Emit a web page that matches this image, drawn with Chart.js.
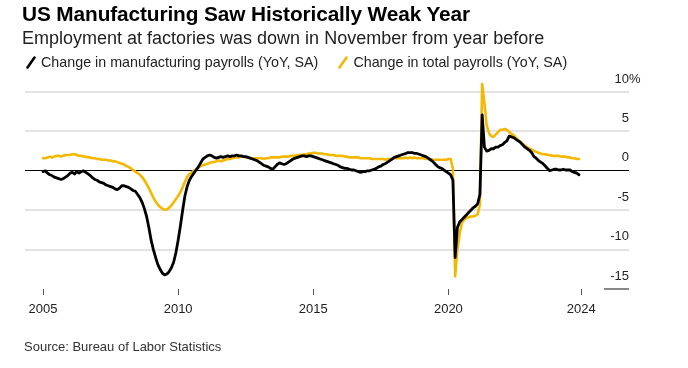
<!DOCTYPE html>
<html>
<head>
<meta charset="utf-8">
<script src="https://cdn.jsdelivr.net/npm/chart.js@4.4.1/dist/chart.umd.min.js"></script>
<style>
  html, body { margin: 0; padding: 0; background: #fff; }
  #wrap { position: relative; width: 688px; height: 368px; overflow: hidden; font-family: "Liberation Sans", Arial, sans-serif; }
  #c { position: absolute; left: 0; top: 0; }
  .t { position: absolute; white-space: nowrap; }
  #title { left: 22px; top: 2px; line-height: 24px; font-size: 20.8px; font-weight: bold; color: #000; letter-spacing: -0.1px; }
  #subtitle { left: 22px; top: 27px; line-height: 22px; font-size: 18px; color: #222; }
  #legend { left: 26px; top: 52px; line-height: 20px; font-size: 14.3px; color: #222; display: flex; align-items: center; }
  #legend svg { margin-right: 5px; }
  #legend .item { display: flex; align-items: center; margin-right: 20px; }
  #source { left: 24px; top: 338px; line-height: 18px; font-size: 13px; color: #333; }
</style>
</head>
<body>
<div id="wrap">
  <canvas id="c" width="688" height="368"></canvas>
  <div class="t" id="title">US Manufacturing Saw Historically Weak Year</div>
  <div class="t" id="subtitle">Employment at factories was down in November from year before</div>
  <div class="t" id="legend"></div>
  <div class="t" id="source">Source: Bureau of Labor Statistics</div>
</div>
<script>
// Monthly, Jan 2005 – Nov 2024, year-over-year % change
const firstYear = 2005;
const seriesNames = ['Change in manufacturing payrolls (YoY, SA)', 'Change in total payrolls (YoY, SA)'];
const manufacturingYoY = [
  -0.1, 0.0, -0.3, -0.5, -0.6, -0.8, -0.9, -1.0, -1.1, -1.0, -0.8, -0.6,   // 2005
  -0.3, -0.2, -0.4, -0.1, -0.3, -0.1, 0.0, -0.2, -0.4, -0.6, -0.9, -1.1,   // 2006
  -1.2, -1.4, -1.5, -1.6, -1.8, -1.9, -2.0, -2.1, -2.3, -2.4, -2.2, -1.9,  // 2007
  -1.9, -2.0, -2.1, -2.3, -2.5, -2.6, -3.0, -3.4, -4.0, -4.8, -5.8, -7.2,  // 2008
  -8.8, -10.0, -11.0, -11.9, -12.5, -13.0, -13.2, -13.1, -12.8, -12.3, -11.6, -10.4, // 2009
  -8.8, -7.0, -5.0, -3.2, -2.0, -1.2, -0.7, -0.3, 0.1, 0.5, 1.0, 1.5,      // 2010
  1.7, 1.9, 2.0, 1.9, 1.7, 1.6, 1.7, 1.8, 1.7, 1.8, 1.9, 1.8,              // 2011
  1.9, 1.9, 2.0, 1.9, 1.9, 1.8, 1.8, 1.7, 1.6, 1.5, 1.4, 1.3,              // 2012
  1.1, 0.9, 0.7, 0.6, 0.5, 0.3, 0.2, 0.5, 0.8, 1.0, 0.9, 0.8,              // 2013
  0.9, 1.1, 1.3, 1.5, 1.6, 1.7, 1.8, 1.9, 1.9, 1.8, 1.9, 1.9,              // 2014
  1.8, 1.7, 1.6, 1.5, 1.4, 1.3, 1.2, 1.1, 1.0, 0.9, 0.8, 0.7,              // 2015
  0.5, 0.4, 0.3, 0.3, 0.2, 0.1, 0.1, 0.0, -0.1, -0.2, -0.1, -0.1,          // 2016
  0.0, 0.0, 0.1, 0.2, 0.3, 0.5, 0.6, 0.8, 0.9, 1.1, 1.3, 1.5,              // 2017
  1.7, 1.8, 1.9, 2.0, 2.1, 2.2, 2.3, 2.3, 2.3, 2.2, 2.2, 2.1,              // 2018
  2.0, 1.9, 1.8, 1.6, 1.4, 1.2, 0.9, 0.6, 0.4, 0.3, 0.1, -0.1,             // 2019
  -0.3, -0.5, -1.2, -11.0, -7.2, -6.5, -6.2, -5.9, -5.6, -5.3, -5.0, -4.7, // 2020
  -4.5, -4.2, -3.0, 7.1, 3.0, 2.5, 2.6, 2.8, 2.8, 3.0, 3.0, 3.2,           // 2021
  3.3, 3.6, 3.8, 4.4, 4.3, 4.2, 4.0, 3.8, 3.6, 3.3, 3.0, 2.8,              // 2022
  2.6, 2.3, 1.8, 1.6, 1.3, 1.1, 0.9, 0.6, 0.3, 0.0, 0.1, 0.2,              // 2023
  0.2, 0.1, 0.1, 0.2, 0.1, 0.1, 0.1, -0.1, -0.2, -0.3, -0.5                // 2024 (Jan–Nov)
];
const totalYoY = [
  1.6, 1.6, 1.7, 1.8, 1.7, 1.8, 1.9, 1.9, 1.8, 1.9, 2.0, 2.0,              // 2005
  2.0, 2.1, 2.1, 2.0, 1.9, 1.9, 1.8, 1.8, 1.7, 1.7, 1.6, 1.6,              // 2006
  1.5, 1.5, 1.4, 1.4, 1.4, 1.3, 1.3, 1.2, 1.2, 1.1, 1.0, 0.9,              // 2007
  0.8, 0.6, 0.5, 0.3, 0.1, -0.1, -0.3, -0.5, -0.8, -1.2, -1.7, -2.2,       // 2008
  -2.8, -3.4, -3.9, -4.3, -4.6, -4.8, -4.95, -4.9, -4.7, -4.4, -4.0, -3.6, // 2009
  -3.2, -2.7, -2.1, -1.4, -0.8, -0.4, -0.2, 0.0, 0.2, 0.4, 0.6, 0.7,       // 2010
  0.8, 0.9, 1.0, 1.1, 1.1, 1.2, 1.3, 1.2, 1.3, 1.4, 1.5, 1.5,              // 2011
  1.6, 1.7, 1.7, 1.7, 1.8, 1.8, 1.7, 1.7, 1.6, 1.6, 1.6, 1.6,              // 2012
  1.6, 1.6, 1.5, 1.6, 1.6, 1.7, 1.7, 1.7, 1.7, 1.7, 1.8, 1.8,              // 2013
  1.8, 1.8, 1.9, 1.9, 1.9, 2.0, 2.0, 2.0, 2.1, 2.1, 2.2, 2.2,              // 2014
  2.3, 2.3, 2.2, 2.2, 2.2, 2.1, 2.1, 2.0, 2.0, 2.0, 1.9, 1.9,              // 2015
  1.9, 1.9, 1.8, 1.8, 1.7, 1.7, 1.7, 1.7, 1.7, 1.6, 1.6, 1.6,              // 2016
  1.6, 1.6, 1.5, 1.5, 1.5, 1.5, 1.5, 1.5, 1.4, 1.5, 1.5, 1.5,              // 2017
  1.6, 1.6, 1.6, 1.6, 1.6, 1.7, 1.6, 1.7, 1.6, 1.7, 1.6, 1.6,              // 2018
  1.6, 1.6, 1.5, 1.5, 1.5, 1.4, 1.4, 1.4, 1.4, 1.4, 1.4, 1.4,              // 2019
  1.5, 1.5, 0.3, -13.4, -10.0, -8.0, -6.6, -6.2, -6.0, -5.9, -5.8, -5.8,   // 2020
  -5.7, -5.5, -4.3, 11.0, 8.6, 5.8, 4.8, 4.4, 4.3, 4.6, 4.9, 5.2,          // 2021
  5.2, 5.3, 5.2, 4.9, 4.7, 4.5, 4.2, 3.9, 3.7, 3.4, 3.2, 3.0,              // 2022
  2.8, 2.7, 2.5, 2.4, 2.3, 2.2, 2.1, 2.1, 2.0, 2.0, 1.9, 1.9,              // 2023
  1.9, 1.9, 1.8, 1.8, 1.8, 1.7, 1.7, 1.6, 1.6, 1.5, 1.5                    // 2024 (Jan–Nov)
];
// x ticks: month index from Jan 2005, with labels
const xTickMonths = [0, 60, 120, 180, 239];
const xTickLabels = ['2005', '2010', '2015', '2020', '2024'];
const yTicks = [-15, -10, -5, 0, 5, 10];

const colors = { mfg: '#000000', total: '#f5b800' };

// legend (HTML, real text)
const legendEl = document.getElementById('legend');
[[seriesNames[0], colors.mfg], [seriesNames[1], colors.total]].forEach(([name, col]) => {
  const item = document.createElement('span');
  item.className = 'item';
  item.innerHTML = '<svg width="10" height="13" viewBox="0 0 10 13"><line x1="1.5" y1="11.5" x2="8.5" y2="1.5" stroke="' + col + '" stroke-width="2.6" stroke-linecap="round"/></svg>';
  const txt = document.createElement('span');
  txt.textContent = name;
  item.appendChild(txt);
  legendEl.appendChild(item);
});

const toPoints = arr => arr.map((v, i) => ({ x: i, y: v }));

const yLabelPlugin = {
  id: 'yLabels',
  afterDraw(chart) {
    const ctx = chart.ctx;
    const y = chart.scales.y;
    const right = chart.chartArea.right;
    ctx.save();
    ctx.font = '13px "Liberation Sans", Arial, sans-serif';
    ctx.fillStyle = '#222';
    ctx.textBaseline = 'middle';
    yTicks.forEach(v => {
      const py = y.getPixelForValue(v) - 13;
      ctx.textAlign = 'right';
      ctx.fillText(String(v), right, py);
      if (v === yTicks[yTicks.length - 1]) {
        ctx.textAlign = 'left';
        ctx.fillText('%', right, py);
      }
    });
    // short axis mark at bottom value
    const pb = y.getPixelForValue(yTicks[0]);
    ctx.strokeStyle = '#888';
    ctx.lineWidth = 2;
    ctx.beginPath();
    ctx.moveTo(right - 25, pb);
    ctx.lineTo(right, pb);
    ctx.stroke();
    ctx.restore();
  }
};

new Chart(document.getElementById('c'), {
  type: 'line',
  data: {
    datasets: [
      { label: seriesNames[0], data: toPoints(manufacturingYoY), borderColor: colors.mfg, borderWidth: 2.8, pointRadius: 0, tension: 0, borderJoinStyle: 'round', borderCapStyle: 'round', clip: false },
      { label: seriesNames[1], data: toPoints(totalYoY), borderColor: colors.total, borderWidth: 2.6, pointRadius: 0, tension: 0, borderJoinStyle: 'round', borderCapStyle: 'round', clip: false }
    ]
  },
  options: {
    responsive: false,
    animation: false,
    devicePixelRatio: 1,
    layout: { padding: { left: 25, right: 59, top: 92, bottom: 49 } },
    plugins: { legend: { display: false }, tooltip: { enabled: false }, title: { display: false } },
    scales: {
      x: {
        type: 'linear',
        min: -8,
        max: 260.2,
        afterBuildTicks: axis => { axis.ticks = xTickMonths.map(v => ({ value: v })); },
        afterFit: s => { s.height = 30; },
        ticks: {
          autoSkip: false,
          maxRotation: 0,
          padding: 7,
          color: '#222',
          font: { family: '"Liberation Sans", Arial, sans-serif', size: 13 },
          callback: (v) => { const k = xTickMonths.indexOf(v); return k >= 0 ? xTickLabels[k] : ''; }
        },
        grid: { display: true, drawOnChartArea: false, drawTicks: true, tickLength: 6, tickColor: '#555', tickWidth: 1 },
        border: { display: false }
      },
      y: {
        position: 'right',
        min: yTicks[0],
        max: yTicks[yTicks.length - 1],
        afterBuildTicks: axis => { axis.ticks = yTicks.map(v => ({ value: v })); },
        afterFit: s => { s.width = 0; },
        ticks: { display: false },
        grid: {
          drawTicks: false,
          color: ctx => ctx.tick.value === 0 ? '#000' : (ctx.tick.value === yTicks[0] ? 'rgba(0,0,0,0)' : '#e3e3e3'),
          lineWidth: ctx => ctx.tick.value === 0 ? 1 : 2
        },
        border: { display: false }
      }
    }
  },
  plugins: [yLabelPlugin]
});
</script>
</body>
</html>
